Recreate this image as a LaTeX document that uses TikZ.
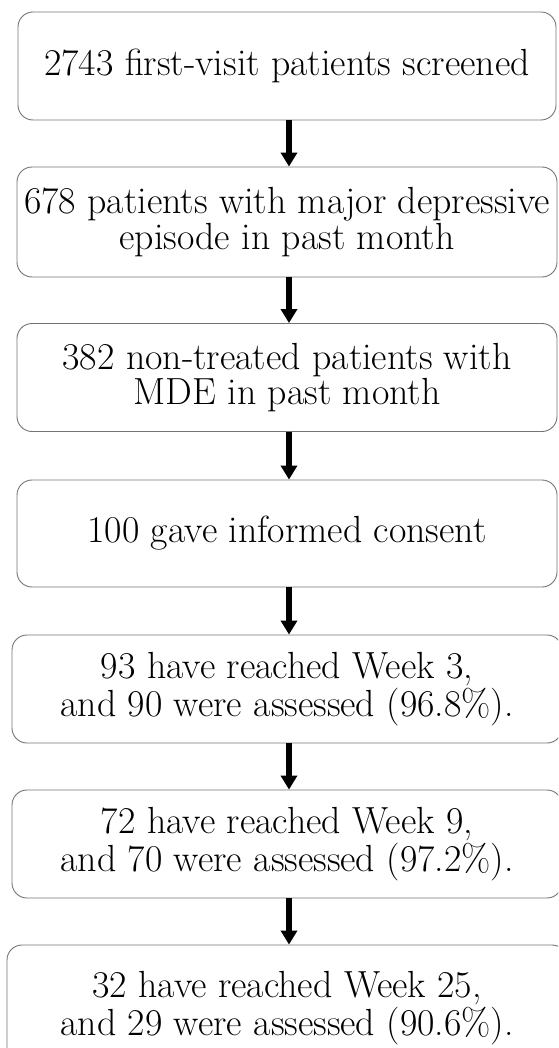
\documentclass[tikz,border=0pt]{standalone}
\usetikzlibrary{arrows.meta}
\begin{document}
\begin{tikzpicture}[x=0.5pt,y=-0.5pt,
  every node/.style={draw=black!55, line width=0.45pt, rounded corners=7.5pt, align=center,
    minimum height=54pt, inner sep=0pt, font=\fontsize{18.9}{17.6}\selectfont},
  flow/.style={line width=2.6pt, -{Triangle[width=8pt,length=7pt]}}]
\clip (0,0) rectangle (558,1048);
\node[minimum width=269pt] (s0) at (287, 66) {2743 first-visit patients screened};
\node[minimum width=270pt, minimum height=55pt] (s1) at (287, 222) {678 patients with major depressive\\episode in past month};
\node[minimum width=270pt] (s2) at (287, 377.5) {382 non-treated patients with\\MDE in past month};
\node[minimum width=270pt, minimum height=53.5pt] (s3) at (287, 533.5) {100 gave informed consent};
\node[minimum width=275pt] (s4) at (287, 689) {93 have reached Week 3,\\and 90 were assessed (96.8\%).};
\node[minimum width=275pt] (s5) at (287, 844) {72 have reached Week 9,\\and 70 were assessed (97.2\%).};
\node[minimum width=280pt, minimum height=63pt] (s6) at (287, 1008) {32 have reached Week 25,\\and 29 were assessed (90.6\%).};
\foreach \x/\y in {s0/s1, s1/s2, s2/s3, s3/s4, s4/s5, s5/s6}
  \draw[flow] ([xshift=1pt]\x.south) -- ([xshift=1pt]\y.north);
\end{tikzpicture}
\end{document}
